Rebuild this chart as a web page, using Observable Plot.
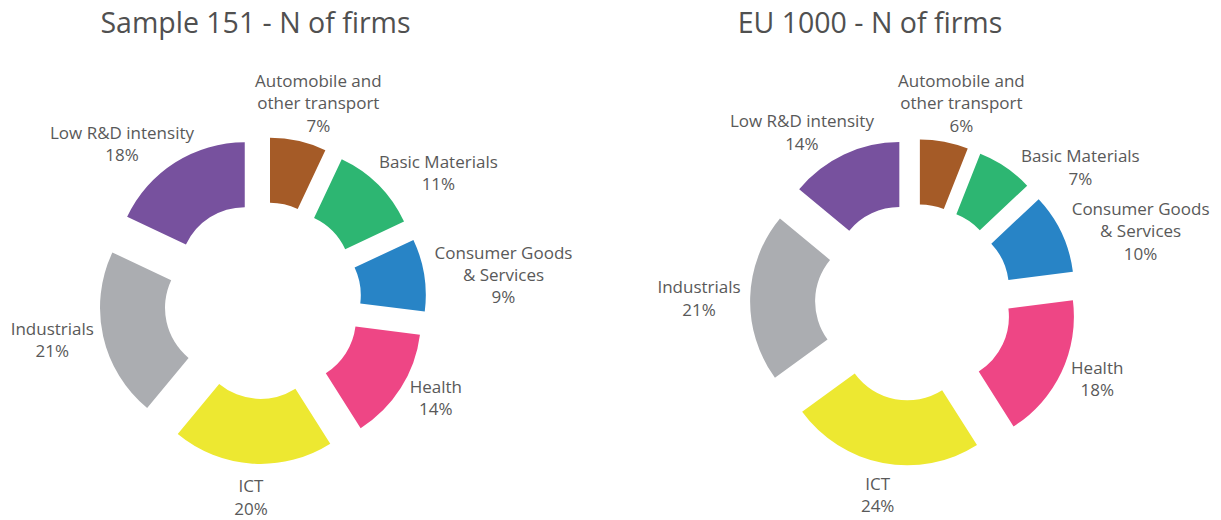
<!DOCTYPE html>
<html>
<head>
<meta charset="utf-8">
<script src="https://cdn.jsdelivr.net/npm/d3@7"></script>
<script src="https://cdn.jsdelivr.net/npm/@observablehq/plot@0.6"></script>
<style>
  body { margin: 0; background: #fff; font-family: "Open Sans", sans-serif; }
  #wrap { display: flex; width: 1221px; height: 520px; overflow: hidden; }
  .block { flex: none; }
  .title { height: 45px; line-height: 45px; font-size: 28.5px; color: #505050; text-align: center; white-space: nowrap; }
  svg { overflow: visible; }
</style>
</head>
<body>
<div id="wrap"></div>
<script>
// ---------- data ----------
const categories = ["Automobile and other transport", "Basic Materials", "Consumer Goods & Services", "Health", "ICT", "Industrials", "Low R&D intensity"];
const categoryLines = ["Automobile and\nother transport", "Basic Materials", "Consumer Goods\n& Services", "Health", "ICT", "Industrials", "Low R&D intensity"];
const sliceColors = ["#a55b27", "#2db672", "#2884c6", "#ee4685", "#ede831", "#abadb1", "#77519e"];
const chartTitles = ["Sample 151 - N of firms", "EU 1000 - N of firms"];
const sampleShares = [7, 11, 9, 14, 20, 21, 18];
const eu1000Shares = [6, 7, 10, 18, 24, 21, 14];

// ---------- geometry / style ----------
const R_OUT = 130, R_IN = 65, EXPLODE = 33.5, LABEL_R = 173.5, GAP = 8;
const FONT = 17, LINE_H = 1.32, FONT_FAMILY = "Open Sans";
const TEXT_COLOR = "#595959";

const ctx = document.createElement("canvas").getContext("2d");
ctx.font = `${FONT}px "${FONT_FAMILY}"`;
const measure = (s) => d3.max(s.split("\n"), (l) => ctx.measureText(l).width);

function buildRows(shares) {
  const total = d3.sum(shares);
  const cum = [0, ...d3.cumsum(shares)];
  return categories.map((category, i) => {
    const start = (cum[i] / total) * 2 * Math.PI;
    const end = (cum[i + 1] / total) * 2 * Math.PI;
    const label = `${categoryLines[i]}\n${shares[i]}%`;
    return {category, share: shares[i], start, end, mid: (start + end) / 2, label};
  });
}

// outside labels: box pushed away from the ring, then stacked to avoid overlaps
function placeLabels(rows) {
  for (const d of rows) {
    const s = Math.sin(d.mid), c = Math.cos(d.mid);
    d.hw = measure(d.label) / 2;
    d.hh = (d.label.split("\n").length * FONT * LINE_H) / 2;
    d.lx = LABEL_R * s + Math.sign(s) * d.hw * Math.min(1, 1.25 * Math.abs(s));
    d.ly = LABEL_R * c + c * d.hh * (1 - Math.abs(s) ** 1.5);
  }
  for (const side of [1, -1]) {
    const group = rows.filter((d) => Math.sign(Math.sin(d.mid)) === side).sort((a, b) => b.ly - a.ly);
    for (let i = 1; i < group.length; i++) {
      const p = group[i - 1], d = group[i];
      const xOverlap = Math.abs(d.lx - p.lx) < d.hw + p.hw;
      const limit = p.ly - p.hh - GAP;
      if (xOverlap && d.ly + d.hh > limit) {
        d.ly = limit - d.hh;
        const edge = Math.sqrt(Math.max(0, LABEL_R ** 2 - d.ly ** 2));
        d.lx = side * (edge + d.hw);
      }
    }
  }
  return rows;
}

function donutMark(rows) {
  return (index, scales) => {
    const {x, y} = scales;
    const color = scales.color ?? Plot.scale({color: {domain: categories, range: sliceColors}}).apply;
    const x0 = x(0);
    const px = (v) => x(v) - x0;
    const g = d3.create("svg:g");
    const arc = d3.arc();
    for (const d of rows) {
      const ox = x(EXPLODE * Math.sin(d.mid));
      const oy = y(EXPLODE * Math.cos(d.mid));
      g.append("path")
        .attr("d", arc({innerRadius: px(R_IN), outerRadius: px(R_OUT), startAngle: d.start, endAngle: d.end}))
        .attr("transform", `translate(${ox},${oy})`)
        .attr("fill", color(d.category));
    }
    return g.node();
  };
}

function makeDonut(title, shares, layout) {
  const rows = placeLabels(buildRows(shares));
  const {width, height, cx, cy, titleShift} = layout;
  const block = document.createElement("div");
  block.className = "block";
  block.style.width = width + "px";
  const t = document.createElement("div");
  t.className = "title";
  t.style.paddingLeft = titleShift + "px";
  t.textContent = title;
  block.appendChild(t);
  const chart = Plot.plot({
    width, height,
    margin: 0,
    x: {domain: [-cx, width - cx], axis: null},
    y: {domain: [-(height - cy), cy], axis: null},
    color: {domain: categories, range: sliceColors},
    style: {background: "transparent", overflow: "visible"},
    marks: [
      donutMark(rows),
      Plot.text(rows, {
        x: "lx", y: "ly", text: "label",
        textAnchor: "middle", lineAnchor: "middle", lineHeight: LINE_H,
        fontSize: FONT, fontFamily: FONT_FAMILY, fill: TEXT_COLOR
      })
    ]
  });
  block.appendChild(chart);
  return block;
}

const wrap = document.getElementById("wrap");
wrap.appendChild(makeDonut(chartTitles[0], sampleShares, {width: 511, height: 475, cx: 262.7, cy: 255.5, titleShift: 0}));
wrap.appendChild(makeDonut(chartTitles[1], eu1000Shares, {width: 710, height: 475, cx: 402.6, cy: 257.4, titleShift: 8}));
</script>
</body>
</html>
